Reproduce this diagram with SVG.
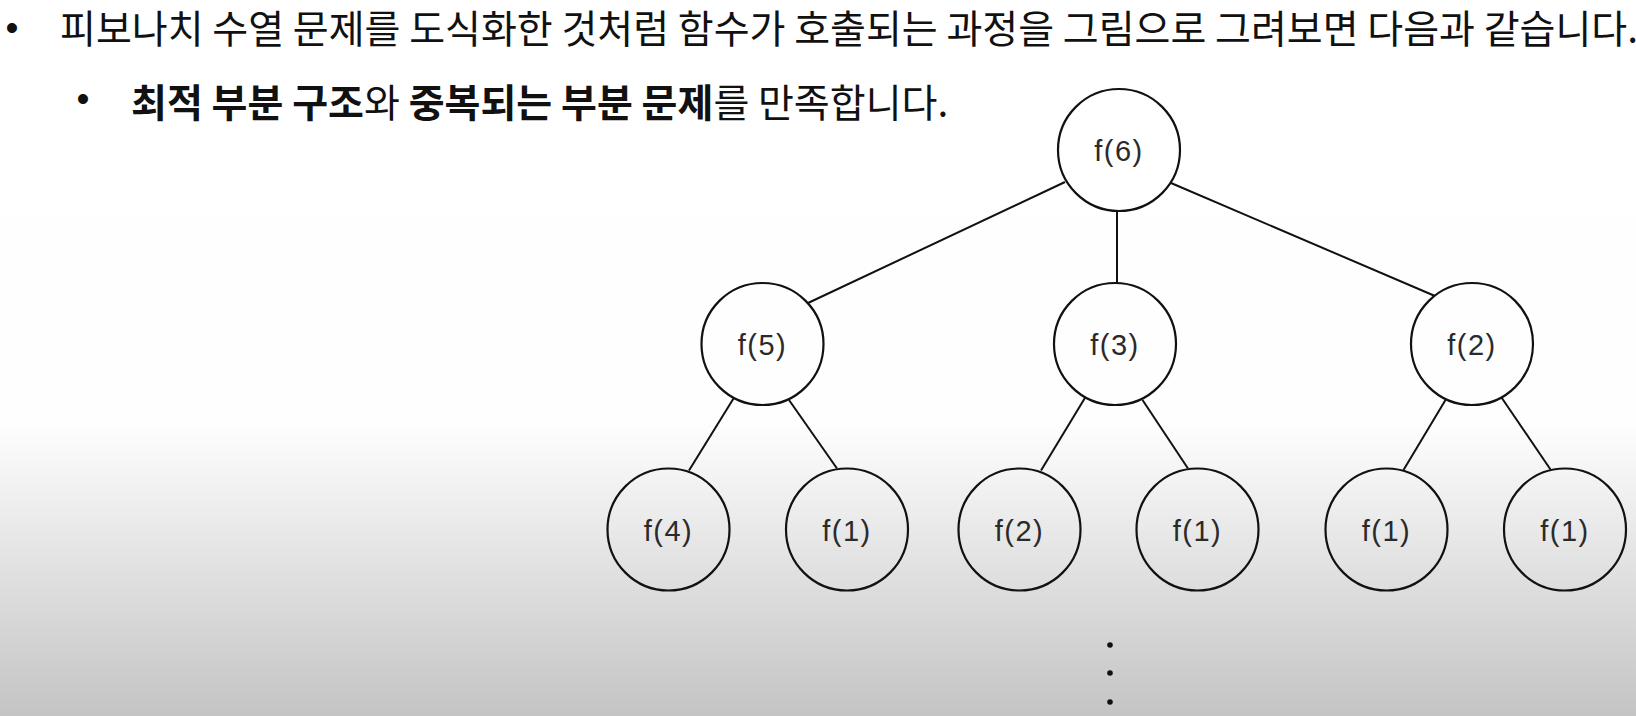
<svg xmlns="http://www.w3.org/2000/svg" width="1636" height="716" viewBox="0 0 1636 716">
  <defs>
    <linearGradient id="bg" x1="0" y1="0" x2="0" y2="716" gradientUnits="userSpaceOnUse">
      <stop offset="0" stop-color="#ffffff"/>
      <stop offset="0.59" stop-color="#fefefe"/>
      <stop offset="1" stop-color="#c4c4c4"/>
    </linearGradient>
    <style>
      .body { font-family: "Noto Sans CJK KR", "Noto Sans", sans-serif; font-size: 39px; fill: #111111; }
      .b { font-weight: bold; }
      .bullet { font-family: "Liberation Sans", Arial, sans-serif; font-size: 37px; fill: #111111; text-anchor: middle; }
      .node circle { fill: none; stroke: #111111; stroke-width: 2.2; }
      .node text { font-family: "Liberation Sans", Arial, sans-serif; font-size: 29px; fill: #2a2a2a; text-anchor: middle; letter-spacing: 1.5px; }
      .edges line { stroke: #111111; stroke-width: 2; }
      .dots circle { fill: #111111; }
    </style>
  </defs>

  <rect x="0" y="0" width="1636" height="716" fill="url(#bg)"/>

  <g id="text">
    <text class="bullet" x="12" y="40">•</text>
    <text class="body" x="60" y="43">피보나치 수열 문제를 도식화한 것처럼 함수가 호출되는 과정을 그림으로 그려보면 다음과 같습니다.</text>
    <text class="bullet" x="83" y="111">•</text>
    <text class="body" x="131" y="117"><tspan class="b">최적 부분 구조</tspan>와 <tspan class="b">중복되는 부분 문제</tspan>를 만족합니다.</text>
  </g>

  <g id="connectors" class="edges">
    <line x1="1065" y1="182" x2="808" y2="303"/>
    <line x1="1117" y1="211" x2="1117" y2="283"/>
    <line x1="1171" y1="183" x2="1435" y2="296"/>
    <line x1="733.5" y1="398.5" x2="689" y2="470.5"/>
    <line x1="789" y1="400" x2="837" y2="468.5"/>
    <line x1="1085.5" y1="397" x2="1041" y2="470.5"/>
    <line x1="1142.5" y1="400" x2="1188" y2="468.5"/>
    <line x1="1445.5" y1="400" x2="1403.5" y2="470"/>
    <line x1="1501.5" y1="397.5" x2="1550.5" y2="469.5"/>
  </g>

  <g id="n-f6" class="node"><circle cx="1119" cy="150" r="61"/><text x="1119" y="161">f(6)</text></g>
  <g id="n-f5" class="node"><circle cx="762.5" cy="344" r="61"/><text x="762.5" y="355">f(5)</text></g>
  <g id="n-f3" class="node"><circle cx="1115" cy="344" r="61"/><text x="1115" y="355">f(3)</text></g>
  <g id="n-f2" class="node"><circle cx="1472" cy="344" r="61"/><text x="1472" y="355">f(2)</text></g>
  <g id="n-f4" class="node"><circle cx="668.5" cy="529.5" r="61"/><text x="668.5" y="540.5">f(4)</text></g>
  <g id="n-f1a" class="node"><circle cx="847" cy="529.5" r="61"/><text x="847" y="540.5">f(1)</text></g>
  <g id="n-f2b" class="node"><circle cx="1019.5" cy="529.5" r="61"/><text x="1019.5" y="540.5">f(2)</text></g>
  <g id="n-f1b" class="node"><circle cx="1197.5" cy="529.5" r="61"/><text x="1197.5" y="540.5">f(1)</text></g>
  <g id="n-f1c" class="node"><circle cx="1386.5" cy="529.5" r="61"/><text x="1386.5" y="540.5">f(1)</text></g>
  <g id="n-f1d" class="node"><circle cx="1565" cy="529.5" r="61"/><text x="1565" y="540.5">f(1)</text></g>

  <g id="ellipsis" class="dots">
    <circle cx="1110" cy="645" r="2.8"/>
    <circle cx="1110" cy="673" r="2.8"/>
    <circle cx="1110" cy="702" r="2.8"/>
  </g>
</svg>
